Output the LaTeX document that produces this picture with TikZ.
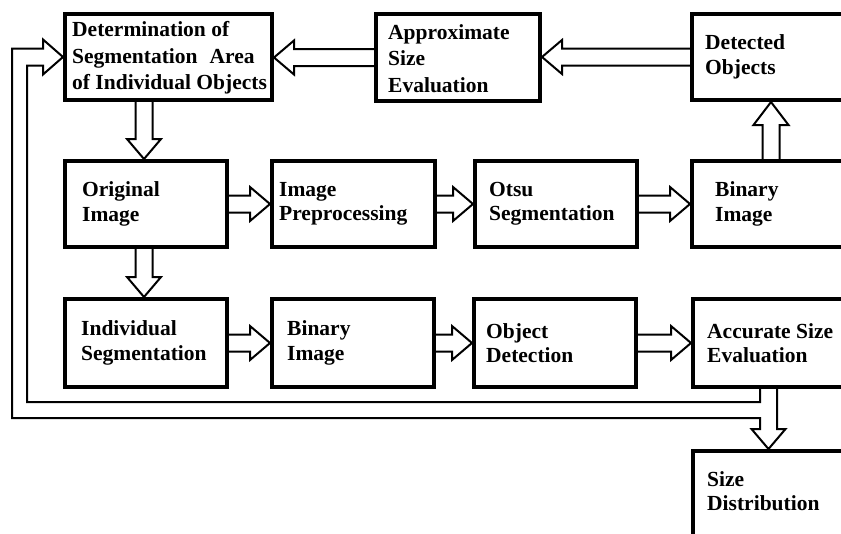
\documentclass[tikz,border=0pt]{standalone}
\usepackage{fontspec}
\setmainfont{Liberation Serif}
\usetikzlibrary{calc}
\tikzset{
  blk/.style={draw, line width=4pt, inner sep=0pt, anchor=north west},
  txt/.style={font=\fontsize{21.5}{24.5}\selectfont\bfseries, align=left, inner sep=0pt, anchor=west},
  conn/.style={draw, line width=2pt, line join=miter},
  arrR/.style={conn, to path={let \p1=(\tikztostart), \p2=(\tikztotarget) in
    (\x1,\y1+8.5pt) -- (\x2-20pt,\y1+8.5pt) -- (\x2-20pt,\y1+17pt) -- (\x2,\y1)
    -- (\x2-20pt,\y1-17pt) -- (\x2-20pt,\y1-8.5pt) -- (\x1,\y1-8.5pt)}},
  arrL/.style={conn, to path={let \p1=(\tikztostart), \p2=(\tikztotarget) in
    (\x1,\y1+8.5pt) -- (\x2+20pt,\y1+8.5pt) -- (\x2+20pt,\y1+17pt) -- (\x2,\y1)
    -- (\x2+20pt,\y1-17pt) -- (\x2+20pt,\y1-8.5pt) -- (\x1,\y1-8.5pt)}},
  arrD/.style={conn, to path={let \p1=(\tikztostart), \p2=(\tikztotarget) in
    (\x1-8.5pt,\y1) -- (\x1-8.5pt,\y2+20pt) -- (\x1-17pt,\y2+20pt) -- (\x1,\y2)
    -- (\x1+17pt,\y2+20pt) -- (\x1+8.5pt,\y2+20pt) -- (\x1+8.5pt,\y1)}},
  arrU/.style={conn, to path={let \p1=(\tikztostart), \p2=(\tikztotarget) in
    (\x1-8.5pt,\y1) -- (\x1-8.5pt,\y2-23pt) -- (\x1-17.5pt,\y2-23pt) -- (\x1,\y2)
    -- (\x1+17.5pt,\y2-23pt) -- (\x1+8.5pt,\y2-23pt) -- (\x1+8.5pt,\y1)}},
}
\begin{document}
\begin{tikzpicture}[x=1pt,y=-1pt]
\useasboundingbox (0,0) rectangle (841,533);
\clip (0,0) rectangle (841,533);
% boxes
\node[blk, minimum width=207pt, minimum height=86pt] (A) at (63,12) {};
\node[blk, minimum width=164pt, minimum height=87pt] (B) at (374,12) {};
\node[blk, minimum width=200pt, minimum height=86pt] (C) at (690,12) {};
\node[blk, minimum width=162pt, minimum height=86pt] (OI) at (63,159) {};
\node[blk, minimum width=163pt, minimum height=86pt] (IP) at (270,159) {};
\node[blk, minimum width=162pt, minimum height=86pt] (OT) at (473,159) {};
\node[blk, minimum width=200pt, minimum height=86pt] (BM) at (690,159) {};
\node[blk, minimum width=162pt, minimum height=88pt] (IS) at (63,297) {};
\node[blk, minimum width=162pt, minimum height=88pt] (BB) at (270,297) {};
\node[blk, minimum width=162pt, minimum height=88pt] (OD) at (472,297) {};
\node[blk, minimum width=200pt, minimum height=88pt] (ACC) at (691,297) {};
\node[blk, minimum width=200pt, minimum height=130pt] (SD) at (691,449) {};
% texts
\node[txt, font=\fontsize{21.5}{26.5}\selectfont\bfseries] (At) at ([shift={(9,1)}]A.west) {Determination of\\Segmentation\hspace{12pt}Area\\of Individual Objects};
\node[txt, font=\fontsize{21.5}{26.5}\selectfont\bfseries] (Bt) at ([shift={(14,1)}]B.west) {Approximate\\Size\\Evaluation};
\node[txt] (Ct) at ([xshift=15pt]C.west) {Detected\\Objects};
\node[txt] (OIt) at ([xshift=19pt]OI.west) {Original\\Image};
\node[txt] (IPt) at ([xshift=9pt]IP.west) {Image\\Preprocessing};
\node[txt] (OTt) at ([xshift=16pt]OT.west) {Otsu\\Segmentation};
\node[txt] (BMt) at ([xshift=25pt]BM.west) {Binary\\Image};
\node[txt] (ISt) at ([xshift=18pt]IS.west) {Individual\\Segmentation};
\node[txt] (BBt) at ([xshift=17pt]BB.west) {Binary\\Image};
\node[txt] (ODt) at ([xshift=14pt]OD.west) {Object\\Detection};
\node[txt] (ACCt) at ([xshift=16pt]ACC.west) {Accurate Size\\Evaluation};
\node[txt, anchor=north west] (SDt) at ([shift={(16,22)}]SD.north west) {Size\\Distribution};
% arrows
\draw[arrL] (B.west) to (A.east);
\draw[arrL] (C.west) to (B.east);
\draw[arrD] ([xshift=81pt]A.south west) to ([xshift=81pt]OI.north west);
\draw[arrR] (OI.east) to (IP.west);
\draw[arrR] (IP.east) to (OT.west);
\draw[arrR] (OT.east) to (BM.west);
\draw[arrU] ([xshift=81pt]BM.north west) to ([xshift=81pt]C.south west);
\draw[arrD] ([xshift=81pt]OI.south west) to ([xshift=81pt]IS.north west);
\draw[arrR] (IS.east) to (BB.west);
\draw[arrR] (BB.east) to (OD.west);
\draw[arrR] (OD.east) to (ACC.west);
% feedback
\coordinate (sdTip) at ([xshift=77.5pt]SD.north west);
\coordinate (accR) at ($(sdTip |- ACC.south)+(8.5,0)$);
\coordinate (accL) at ($(sdTip |- ACC.south)+(-8.5,0)$);
\coordinate (outC) at (12,418);
\coordinate (inC) at (27,402);
\coordinate (hbT) at ($(A.west)+(-20,-8.5)$);
\coordinate (hbB) at ($(A.west)+(-20,8.5)$);
\draw[conn] (accR) -- ($(sdTip)+(8.5,-20)$) -- ($(sdTip)+(17,-20)$) -- (sdTip)
  -- ($(sdTip)+(-17,-20)$) -- ($(sdTip)+(-8.5,-20)$) -- (accL |- outC) -- (outC)
  -- (outC |- hbT) -- (hbT) -- ($(A.west)+(-20,-17.5)$) -- (A.west)
  -- ($(A.west)+(-20,17.5)$) -- (hbB) -- (inC |- hbB) -- (inC) -- (accL |- inC) -- (accL);
\end{tikzpicture}
\end{document}
